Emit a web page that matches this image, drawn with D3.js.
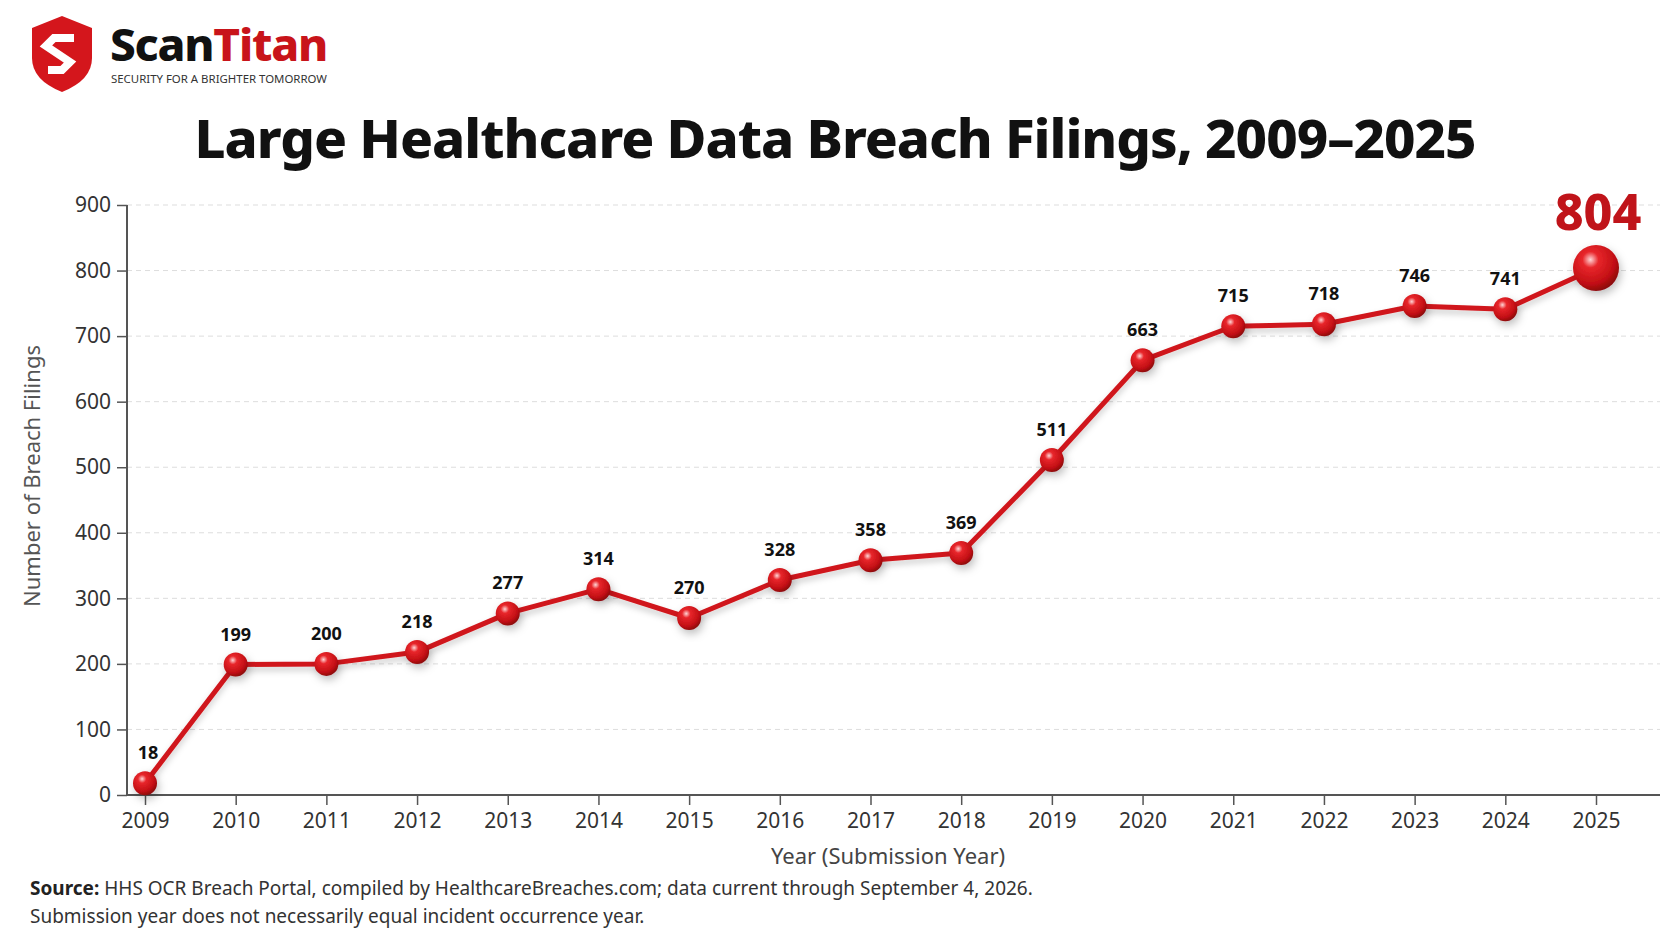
<!DOCTYPE html>
<html><head><meta charset="utf-8">
<script src="https://cdn.jsdelivr.net/npm/d3@7"></script>
<style>body{margin:0;background:#fff}svg{display:block}</style>
</head><body>
<svg id="c" width="1672" height="941"></svg>
<script>
const years = ["2009","2010","2011","2012","2013","2014","2015","2016","2017","2018","2019","2020","2021","2022","2023","2024","2025"];
const filings = [18,199,200,218,277,314,270,328,358,369,511,663,715,718,746,741,804];
const yTicks = [0,100,200,300,400,500,600,700,800,900];

const svg = d3.select("#c");
const F = "'Noto Sans', 'Open Sans', sans-serif";
const defs = svg.append("defs");
const g1 = defs.append("radialGradient").attr("id","ball").attr("cx","38%").attr("cy","32%").attr("r","70%");
g1.append("stop").attr("offset","0%").attr("stop-color","#ffd6d6");
g1.append("stop").attr("offset","25%").attr("stop-color","#e8262b");
g1.append("stop").attr("offset","75%").attr("stop-color","#c20f14");
g1.append("stop").attr("offset","100%").attr("stop-color","#8a070b");
const sh = defs.append("filter").attr("id","sh").attr("x","-50%").attr("y","-50%").attr("width","200%").attr("height","200%");
sh.append("feDropShadow").attr("dx",2).attr("dy",4).attr("stdDeviation",4).attr("flood-color","#000").attr("flood-opacity",0.25);
const shl = defs.append("filter").attr("id","shl").attr("x","-10%").attr("y","-10%").attr("width","120%").attr("height","120%");
shl.append("feDropShadow").attr("dx",0).attr("dy",4).attr("stdDeviation",3).attr("flood-color","#000").attr("flood-opacity",0.2);

// logo
const lg = svg.append("g").attr("transform","translate(32,16)");
lg.append("path").attr("d","M30 0 L60 12 L60 42 Q60 64 30 76 Q0 64 0 42 L0 12 Z").attr("fill","#d4161c");
lg.append("path").attr("d","M42 22 L22 22 L14 30 L38 46 L30 54 L16 54").attr("fill","none").attr("stroke","#fff").attr("stroke-width",8).attr("stroke-linejoin","miter");
const lt = svg.append("text").attr("x",110).attr("y",61).attr("font-family",F).attr("font-weight",800).attr("font-size",44).attr("letter-spacing",-1.2).attr("textLength",217).attr("lengthAdjust","spacingAndGlyphs");
lt.append("tspan").attr("fill","#111").text("Scan");
lt.append("tspan").attr("fill","#c8141a").text("Titan");
svg.append("text").attr("x",111).attr("y",83).attr("font-family",F).attr("font-size",10.5).attr("fill","#333").attr("textLength",216).attr("lengthAdjust","spacingAndGlyphs").text("SECURITY FOR A BRIGHTER TOMORROW");

svg.append("text").attr("x",835).attr("y",158).attr("text-anchor","middle").attr("font-family",F).attr("font-weight",800).attr("font-size",54).attr("letter-spacing",-1).attr("textLength",1281).attr("lengthAdjust","spacingAndGlyphs").attr("fill","#111").text("Large Healthcare Data Breach Filings, 2009\u20132025");

const x = d3.scalePoint().domain(years).range([145,1596]);
const y = d3.scaleLinear().domain([0,900]).range([795,205]);

svg.append("g").selectAll("line").data(yTicks.slice(1)).join("line")
 .attr("x1",127).attr("x2",1660).attr("y1",d=>y(d)).attr("y2",d=>y(d))
 .attr("stroke","#ddd").attr("stroke-dasharray","5,4");

const ya = svg.append("g").attr("transform","translate(127,0)").call(d3.axisLeft(y).tickValues(yTicks).tickSize(10).tickPadding(6));
ya.select(".domain").attr("stroke","#555").attr("stroke-width",2).attr("d","M0,205V795");
ya.selectAll("line").attr("stroke","#555").attr("stroke-width",1.5).attr("x2",-10);
ya.selectAll("text").attr("font-family",F).attr("font-size",21).attr("fill","#333");

const xa = svg.append("g").attr("transform","translate(0,795)").call(d3.axisBottom(x).tickSize(10).tickPadding(8));
xa.select(".domain").attr("stroke","#555").attr("stroke-width",2).attr("d","M127,0H1660");
xa.selectAll("line").attr("stroke","#555").attr("stroke-width",1.5);
xa.selectAll("text").attr("font-family",F).attr("font-size",21).attr("fill","#333");

svg.append("text").attr("transform","translate(40,476) rotate(-90)").attr("text-anchor","middle").attr("font-family",F).attr("font-size",22).attr("fill","#555").text("Number of Breach Filings");
svg.append("text").attr("x",888).attr("y",864).attr("text-anchor","middle").attr("font-family",F).attr("font-size",22).attr("fill","#444").text("Year (Submission Year)");

const data = years.map((yr,i)=>({yr,v:filings[i],last:i===years.length-1}));
svg.append("path").datum(data).attr("d",d3.line().x(d=>x(d.yr)).y(d=>y(d.v)))
 .attr("fill","none").attr("stroke","#d0161b").attr("stroke-width",5).attr("stroke-linejoin","round").attr("filter","url(#shl)");
svg.append("g").selectAll("circle").data(data).join("circle")
 .attr("cx",d=>x(d.yr)).attr("cy",d=>y(d.v)).attr("r",d=>d.last?23:12)
 .attr("fill","url(#ball)").attr("filter","url(#sh)");
svg.append("g").selectAll("text").data(data.filter(d=>!d.last)).join("text")
 .attr("x",d=>x(d.yr)+(d.yr==="2009"?3:0)).attr("y",d=>y(d.v)-24).attr("text-anchor","middle")
 .attr("font-family",F).attr("font-weight",700).attr("font-size",18).attr("fill","#111").text(d=>d.v);
svg.append("g").selectAll("text").data(data.filter(d=>d.last)).join("text")
 .attr("x",d=>x(d.yr)+2).attr("y",d=>y(d.v)-38).attr("text-anchor","middle")
 .attr("font-family",F).attr("font-weight",800).attr("font-size",50).attr("fill","#c0141a").text(d=>d.v);

const s1 = svg.append("text").attr("x",30).attr("y",895).attr("font-family",F).attr("font-size",19).attr("fill","#333");
s1.append("tspan").attr("font-weight",700).attr("fill","#222").text("Source:");
s1.append("tspan").text(" HHS OCR Breach Portal, compiled by HealthcareBreaches.com; data current through September 4, 2026.");
svg.append("text").attr("x",30).attr("y",923).attr("font-family",F).attr("font-size",19).attr("fill","#333").text("Submission year does not necessarily equal incident occurrence year.");
</script>
</body></html>
